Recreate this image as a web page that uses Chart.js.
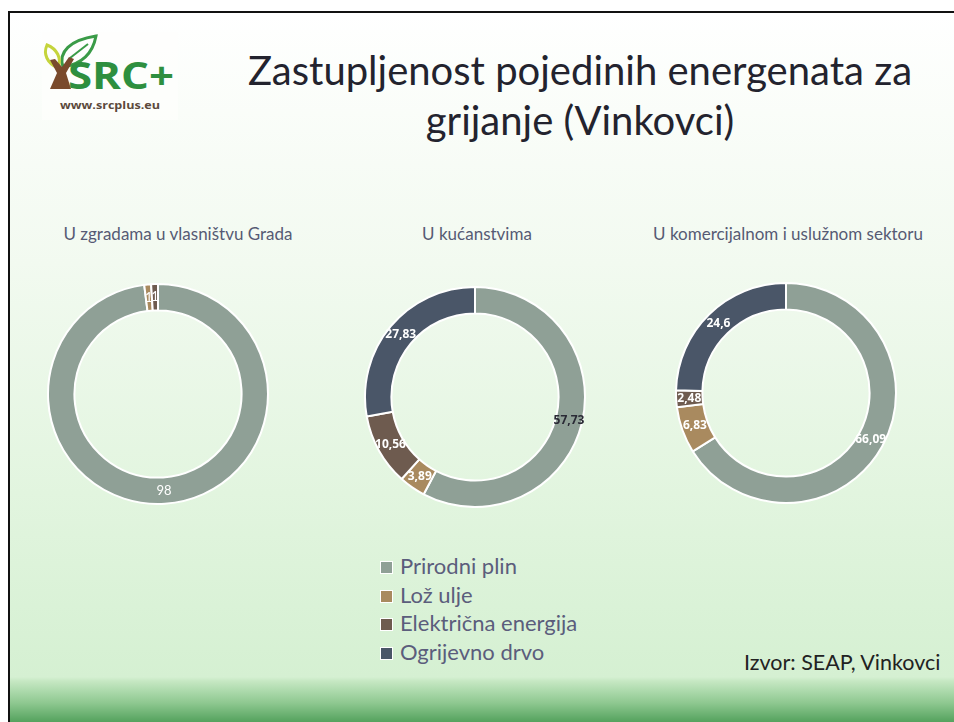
<!DOCTYPE html>
<html>
<head>
<meta charset="utf-8">
<script src="https://cdn.jsdelivr.net/npm/chart.js@4.4.0/dist/chart.umd.min.js"></script>
<style>
  html, body { margin: 0; padding: 0; background: #fff; }
  #slide {
    position: relative; width: 954px; height: 722px; overflow: hidden;
    background: #fff;
  }
  #frame {
    position: absolute; left: 8px; top: 11px; width: 960px; height: 720px;
    border-left: 2px solid #111; border-top: 2px solid #111;
    background: linear-gradient(to bottom, #ffffff 0px, #f2faf0 250px, #e2f5df 480px, #d5f0d2 664px, #c6e8c3 668px, #8ec890 690px, #4e9e58 711px);
  }
  .title {
    position: absolute; left: 210px; width: 740px; text-align: center;
    font-family: Lato, sans-serif; color: #23232e; font-size: 40px; white-space: nowrap;
  }
  .sub {
    position: absolute; width: 340px; text-align: center;
    font-family: Lato, sans-serif; color: #565a74; font-size: 17px; white-space: nowrap;
  }
  .pie { position: absolute; }
  #legend {
    position: absolute; left: 380px; top: 552px;
    font-family: Lato, sans-serif; color: #5b5d7c; font-size: 22px;
  }
  #legend div { height: 28.5px; line-height: 28.5px; white-space: nowrap; }
  #legend span.sw {
    display: inline-block; width: 11px; height: 11px; border: 1px solid #fff;
    margin-right: 7px; vertical-align: 0px;
  }
  #source {
    position: absolute; left: 744px; top: 649px;
    font-family: Lato, sans-serif; color: #222; font-size: 21.5px; white-space: nowrap;
  }
</style>
</head>
<body>
<div id="slide">
  <div id="frame"></div>

  <!-- project logo -->
  <svg style="position:absolute;left:0;top:0" width="200" height="130">
    <rect x="42" y="32" width="136" height="88" fill="#fdfefc" opacity="0.7"/>
    <path d="M63 67 C58 52 70 40 96 36 C93 52 83 64 63 67 Z" fill="none" stroke="#3a9b47" stroke-width="3"/>
    <path d="M70 58 L88 44" stroke="#3a9b47" stroke-width="2"/>
    <path d="M58 68 C47 63 43 54 47 45 C57 49 62 58 58 68 Z" fill="none" stroke="#c5d43c" stroke-width="3"/>
    <path d="M50 89 L57 73 L50 60 L55 59 L62 67 L69 57 L74 59 L66 73 L71 89 Z" fill="#7a4a2c"/>
    <text x="68" y="89" font-family="Open Sans, sans-serif" font-weight="bold" font-size="38" fill="#2e8f3f" textLength="106" lengthAdjust="spacingAndGlyphs">SRC+</text>
    <text x="60" y="109" font-family="Open Sans, sans-serif" font-weight="bold" font-size="11" fill="#5c4a3c" textLength="100" lengthAdjust="spacingAndGlyphs">www.srcplus.eu</text>
  </svg>

  <div class="title" style="top:46px">Zastupljenost pojedinih energenata za</div>
  <div class="title" style="top:96px">grijanje (Vinkovci)</div>

  <div class="sub" style="left:8px;top:223px">U zgradama u vlasništvu Grada</div>
  <div class="sub" style="left:307px;top:223px">U kućanstvima</div>
  <div class="sub" style="left:618px;top:223px">U komercijalnom i uslužnom sektoru</div>

  <canvas class="pie" id="pie1" width="222" height="222" style="left:47px;top:283px"></canvas>
  <canvas class="pie" id="pie2" width="222" height="222" style="left:364px;top:286px"></canvas>
  <canvas class="pie" id="pie3" width="222" height="222" style="left:675px;top:282px"></canvas>

  <div id="legend"></div>
  <div id="source">Izvor: SEAP, Vinkovci</div>
</div>

<script>
(function () {
var energenti = ['Prirodni plin', 'Lož ulje', 'Električna energija', 'Ogrijevno drvo'];
var boje = ['#8fa096', '#a98a5f', '#6e5b4f', '#4a5668'];

// udjeli u %, redom kao energenti
var gradskeZgrade = [98, 1, 1, 0];
var kucanstva = [57.73, 3.89, 10.56, 27.83];
var komercijalni = [66.09, 6.83, 2.48, 24.6];

// boja i font oznaka vrijednosti po grafu
var oznakeGrad = { color: ['#fff', '#fff', '#fff', '#fff'], font: '13px Lato, sans-serif' };
var oznakeKuc = { color: ['#2a2a35', '#fff', '#fff', '#fff'], font: 'bold 12px "Open Sans", sans-serif' };
var oznakeKom = { color: ['#fff', '#fff', '#fff', '#fff'], font: 'bold 12px "Open Sans", sans-serif' };

var valueLabels = {
  id: 'valueLabels',
  afterDatasetsDraw: function (chart, args, opts) {
    var c = chart.ctx;
    var ds = chart.data.datasets[0];
    chart.getDatasetMeta(0).data.forEach(function (arc, i) {
      var v = ds.data[i];
      if (!v) return;
      var p = arc.tooltipPosition();
      c.save();
      c.font = opts.font;
      c.fillStyle = opts.color[i];
      c.textAlign = 'center';
      c.textBaseline = 'middle';
      c.fillText(String(v).replace('.', ','), p.x, p.y);
      c.restore();
    });
  }
};

function crtaj(id, podaci, oznake) {
  return new Chart(document.getElementById(id), {
    type: 'doughnut',
    data: {
      labels: energenti,
      datasets: [{
        data: podaci,
        backgroundColor: boje,
        borderColor: '#ffffff',
        borderWidth: 2
      }]
    },
    options: {
      responsive: false,
      animation: false,
      cutout: '76%',
      layout: { padding: 0 },
      plugins: {
        legend: { display: false },
        tooltip: { enabled: false },
        valueLabels: oznake
      }
    },
    plugins: [valueLabels]
  });
}

crtaj('pie1', gradskeZgrade, oznakeGrad);
crtaj('pie2', kucanstva, oznakeKuc);
crtaj('pie3', komercijalni, oznakeKom);

var legend = document.getElementById('legend');
energenti.forEach(function (e, i) {
  var row = document.createElement('div');
  row.innerHTML = '<span class="sw" style="background:' + boje[i] + '"></span>' + e;
  legend.appendChild(row);
});
})();
</script>
</body>
</html>
